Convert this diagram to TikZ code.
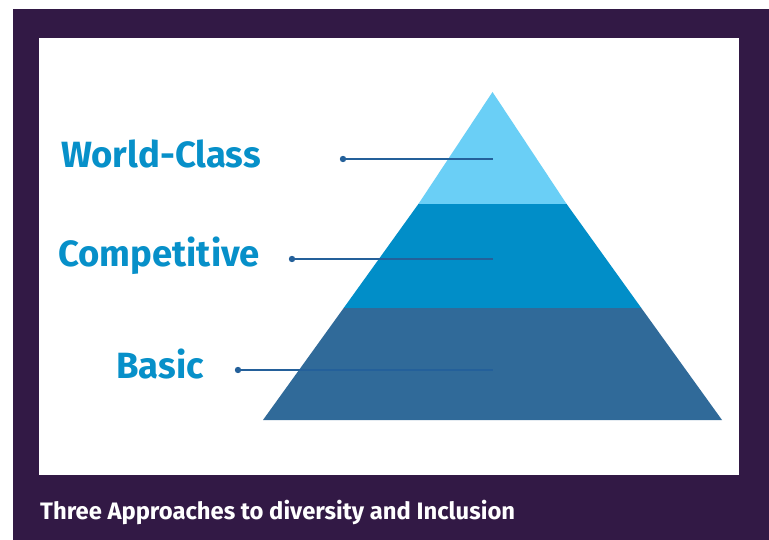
\documentclass[tikz,border=0pt]{standalone}
\usepackage{fontspec}
\setmainfont{Fira Sans}
\usepackage{tikz}

\definecolor{framepurple}{HTML}{321945}
\definecolor{tierlight}{HTML}{6ACFF6}
\definecolor{tiermid}{HTML}{018EC8}
\definecolor{tierdark}{HTML}{306A99}
\definecolor{leaderblue}{HTML}{24609A}
\definecolor{labelblue}{HTML}{0790C9}

\begin{document}
\begin{tikzpicture}[x=1pt, y=-1pt]
\useasboundingbox (0,0) rectangle (769,540);
\fill[framepurple] (13,9) rectangle (769,540);
\fill[white] (39,38) rectangle (739,475);

\coordinate (Apex) at (492.5, 92);
\coordinate (B_L) at (263, 420);
\coordinate (B_R) at (722, 420);
\coordinate (M_L) at (343.7, 308);
\coordinate (M_R) at (641.3, 308);
\coordinate (T_L) at (418.4, 204);
\coordinate (T_R) at (566.6, 204);


\fill[tierdark] (B_L) -- (B_R) -- (M_R) -- (M_L) -- cycle;
\fill[tiermid] (M_L) -- (M_R) -- (T_R) -- (T_L) -- cycle;
\fill[tierlight] (T_L) -- (T_R) -- (Apex) -- cycle;


\tikzset{LabelStyle/.style = {
 anchor = base,
 text = labelblue,
 font = \fontsize{36.5}{36.5}\selectfont\bfseries,
 inner sep = 0pt} }

\node[LabelStyle] (L3) at (161, 168) {World-Class};
\node[LabelStyle] (L2) at (159, 267) {Competitive};
\node[LabelStyle] (L1) at (160, 378) {Basic};


\coordinate (D3) at (343, 159);
\coordinate (E3) at (493, 159);
\coordinate (D2) at (292, 259);
\coordinate (E2) at (493, 259);
\coordinate (D1) at (238, 370);
\coordinate (E1) at (493, 370);

\tikzset{LeaderStyle/.style = {leaderblue, line width=2.8pt} }

\draw[LeaderStyle] (D3) -- (E3);
\draw[LeaderStyle] (D2) -- (E2);
\draw[LeaderStyle] (D1) -- (E1);
\fill[leaderblue] (D3) circle (3.2);
\fill[leaderblue] (D2) circle (3.2);
\fill[leaderblue] (D1) circle (3.2);


\node[anchor=base west, text=white, inner sep=0pt,
 font=\fontsize{23.8}{23.8}\selectfont\bfseries] (Caption) at (40, 519)
 {Three Approaches to diversity and Inclusion};

\end{tikzpicture}
\end{document}
